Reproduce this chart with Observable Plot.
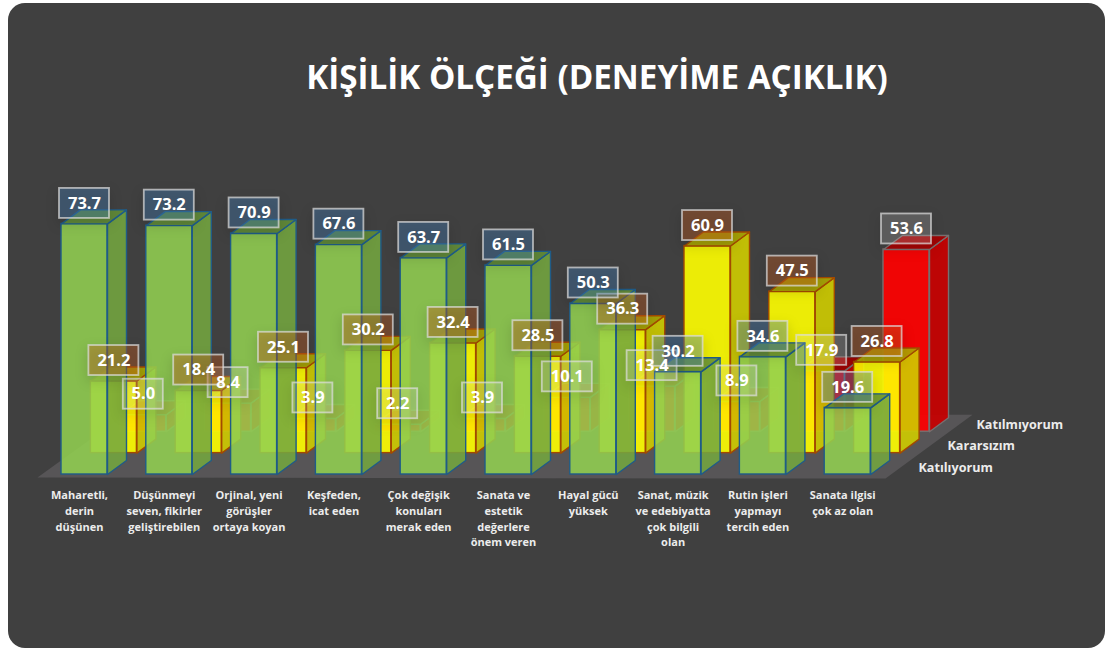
<!DOCTYPE html>
<html lang="tr">
<head>
<meta charset="utf-8">
<script src="https://cdn.jsdelivr.net/npm/d3@7"></script>
<script src="https://cdn.jsdelivr.net/npm/@observablehq/plot@0.6"></script>
<style>
html,body{margin:0;padding:0;background:#fff;}
#page{position:relative;width:1108px;height:648px;overflow:hidden;}
#panel{position:absolute;left:8px;top:3px;width:1097px;height:645px;background:#404040;border-radius:17px;}
#title{position:absolute;left:8px;width:1178px;top:50px;margin:0;text-align:center;color:#fff;font:700 33.2px/54px "Open Sans",sans-serif;}
#chart{position:absolute;left:0;top:100px;}
#chart svg{background:transparent;display:block;}
</style>
</head>
<body>
<div id="page">
<div id="panel"></div>
<h1 id="title">KİŞİLİK ÖLÇEĞİ (DENEYİME AÇIKLIK)</h1>
<div id="chart"></div>
</div>
<script>
const categories = [
  "Maharetli,\nderin\ndüşünen",
  "Düşünmeyi\nseven, fikirler\ngeliştirebilen",
  "Orjinal, yeni\ngörüşler\nortaya koyan",
  "Keşfeden,\nicat eden",
  "Çok değişik\nkonuları\nmerak eden",
  "Sanata ve\nestetik\ndeğerlere\nönem veren",
  "Hayal gücü\nyüksek",
  "Sanat, müzik\nve edebiyatta\nçok bilgili\nolan",
  "Rutin işleri\nyapmayı\ntercih eden",
  "Sanata ilgisi\nçok az olan"
];
const seriesNames = ["Katılıyorum", "Kararsızım", "Katılmıyorum"];
const katiliyorum = [73.7, 73.2, 70.9, 67.6, 63.7, 61.5, 50.3, 30.2, 34.6, 19.6];
const kararsizim = [21.2, 18.4, 25.1, 30.2, 32.4, 28.5, 36.3, 60.9, 47.5, 26.8];
const katilmiyorum = [5.0, 8.4, 3.9, 2.2, 3.9, 10.1, 13.4, 8.9, 17.9, 53.6];
const seriesValues = [katiliyorum, kararsizim, katilmiyorum];

// Styles per series
const frontFill = ["#92d050", "#ffff00", "#ff0000"];
const sideFill = ["#74a63f", "#cfcc00", "#c80000"];
const topFill = ["#649137", "#ada800", "#a80000"];
const edge = ["#1f5c88", "#a34a00", "#777070"];
const faceOpacity = [0.87, 0.9, 0.92];
const labelFill = ["rgba(70,130,190,0.36)", "rgba(205,95,30,0.36)", "rgba(255,255,255,0.16)"];

// Projection constants (chart units: one category = 1 on x, one percent = 1 on y)
const pxX = 84.8, pxY = 3.4;
const barW = 46 / pxX, sideDx = 19 / pxX, sideDy = 14 / pxY;
const rowDx = 29.4 / pxX, rowDy = 21.4 / pxY;

function polygon(pts, id) { return pts.map(([x, y]) => ({x, y, id})); }

const fronts = [], sides = [], tops = [], labels = [];
for (let r = 2; r >= 0; --r) {
  seriesValues[r].forEach((v, i) => {
    const x0 = i + r * rowDx, x1 = x0 + barW, b = r * rowDy, t = b + v;
    fronts.push({r, x0, x1, b, t});
    sides.push(...polygon([[x1, b], [x1 + sideDx, b + sideDy], [x1 + sideDx, t + sideDy], [x1, t], [x1, b]], `${r}-${i}`).map(d => ({...d, r})));
    tops.push(...polygon([[x0, t], [x1, t], [x1 + sideDx, t + sideDy], [x0 + sideDx, t + sideDy], [x0, t]], `${r}-${i}`).map(d => ({...d, r})));
    const single = v < 10;
    labels.push({r, v, text: v.toFixed(1), cx: (x0 + x1) / 2, cy: t + 20.5 / pxY, hw: (single ? 20 : 25) / pxX, hh: 15 / pxY});
  });
}
const floor = polygon([[-24 / pxX, -0.9], [824 / pxX, -1.2], [911 / pxX, 17.6], [63 / pxX, 17.6], [-24 / pxX, -0.9]], "floor");

const marks = [
  Plot.line(floor, {x: "x", y: "y", z: "id", fill: "#575557", stroke: "none"})
];
for (const r of [2, 1, 0]) {
  const sel = d => d.r === r;
  marks.push(
    Plot.rect(fronts.filter(sel), {x1: "x0", x2: "x1", y1: "b", y2: "t", fill: frontFill[r], fillOpacity: faceOpacity[r], stroke: edge[r], strokeWidth: 1.4}),
    Plot.line(sides.filter(sel), {x: "x", y: "y", z: "id", fill: sideFill[r], fillOpacity: faceOpacity[r], stroke: edge[r], strokeWidth: 1.4}),
    Plot.line(tops.filter(sel), {x: "x", y: "y", z: "id", fill: topFill[r], fillOpacity: faceOpacity[r], stroke: edge[r], strokeWidth: 1.4})
  );
}
for (const r of [2, 1, 0]) {
  marks.push(
    Plot.rect(labels.filter(d => d.r === r), {
      x1: d => d.cx - d.hw, x2: d => d.cx + d.hw, y1: d => d.cy - d.hh, y2: d => d.cy + d.hh,
      fill: labelFill[r], stroke: "#dcdcdc", strokeOpacity: 0.72, strokeWidth: 1.8,
      imageFilter: "drop-shadow(0 5px 6px rgba(0,0,0,0.28))"
    })
  );
}
marks.push(
  Plot.text(labels, {
    x: "cx", y: "cy", text: "text", fill: "#ffffff",
    fontFamily: "Open Sans", fontWeight: 700, fontSize: 16.5, textAnchor: "middle", lineAnchor: "middle"
  }),
  Plot.text(categories, {
    x: (d, i) => i + barW / 2 - 5 / pxX, y: () => -13.5 / pxY, text: d => d,
    fill: "#ececec", fontFamily: "Open Sans", fontWeight: 700, fontSize: 11,
    lineHeight: 1.43, textAnchor: "middle", lineAnchor: "top"
  }),
  Plot.text(seriesNames, {
    x: (d, i) => (918 - 61 + i * 29) / pxX, y: (d, i) => 7 / pxY + i * rowDy, text: d => d,
    fill: "#ececec", fontFamily: "Open Sans", fontWeight: 700, fontSize: 12.6, textAnchor: "start", lineAnchor: "middle"
  })
);

const plot = Plot.plot({
  width: 1108, height: 548,
  margin: 0,
  x: {type: "linear", domain: [-61 / pxX, (1108 - 61) / pxX], range: [0, 1108], axis: null},
  y: {type: "linear", domain: [-(648 - 474) / pxY, (474 - 100) / pxY], range: [548, 0], axis: null},
  style: {background: "transparent", overflow: "visible"},
  marks
});
document.getElementById("chart").appendChild(plot);
</script>
</body>
</html>
